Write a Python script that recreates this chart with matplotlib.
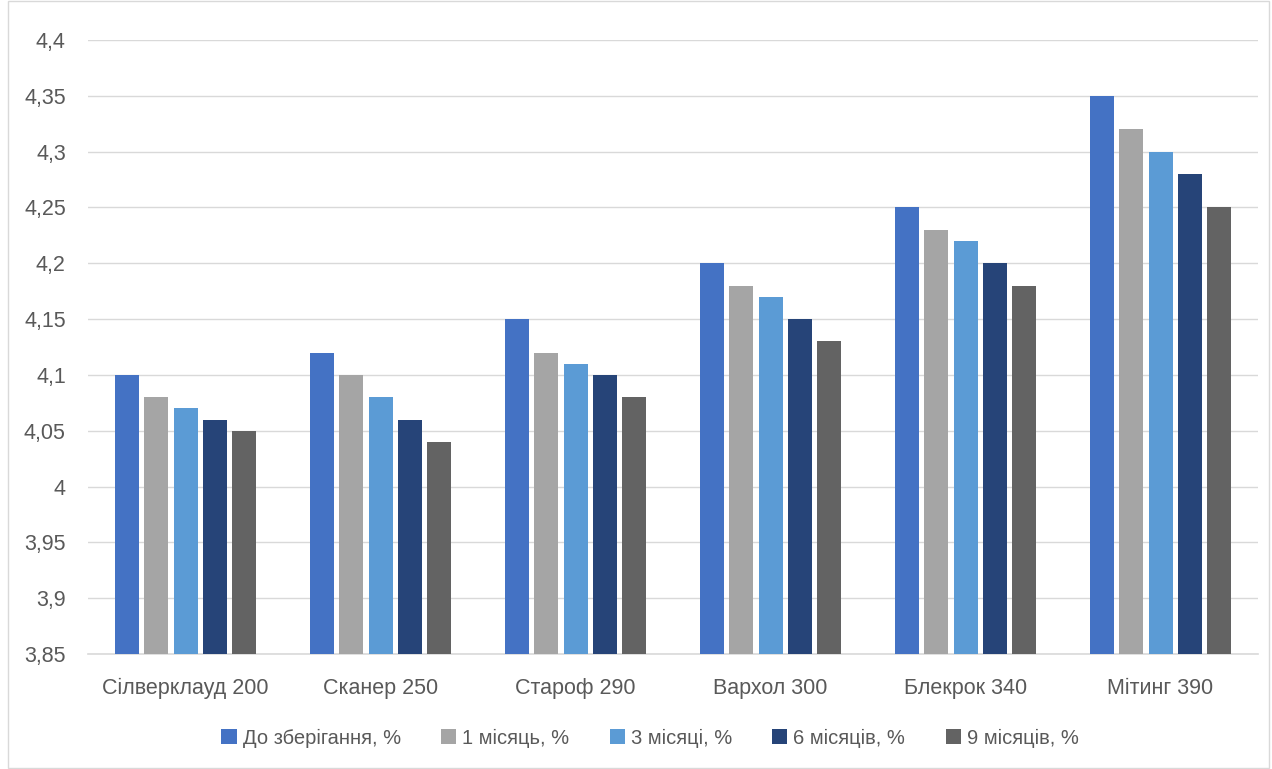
import matplotlib.pyplot as plt
import numpy as np
from matplotlib.patches import Rectangle
from matplotlib.ticker import FuncFormatter

categories = ['Сілверклауд 200', 'Сканер 250', 'Староф 290',
              'Вархол 300', 'Блекрок 340', 'Мітинг 390']
series_names = ['До зберігання, %', '1 місяць, %', '3 місяці, %',
                '6 місяців, %', '9 місяців, %']
before = [4.10, 4.12, 4.15, 4.20, 4.25, 4.35]
month_1 = [4.08, 4.10, 4.12, 4.18, 4.23, 4.32]
month_3 = [4.07, 4.08, 4.11, 4.17, 4.22, 4.30]
month_6 = [4.06, 4.06, 4.10, 4.15, 4.20, 4.28]
month_9 = [4.05, 4.04, 4.08, 4.13, 4.18, 4.25]

colors = ['#4472C4', '#A5A5A5', '#5B9BD5', '#264478', '#636363']

plt.rcParams['font.family'] = ['Liberation Sans', 'DejaVu Sans']

fig = plt.figure(figsize=(12.72, 7.69), dpi=100)
ax = fig.add_axes([0.0692, 0.1495, 0.9198, 0.7985])

x = np.arange(len(categories))
step = 0.151
width = 0.123
all_series = [before, month_1, month_3, month_6, month_9]
for i, (vals, name, col) in enumerate(zip(all_series, series_names, colors)):
    ax.bar(x + (i - 2) * step, vals, width, color=col, label=name, zorder=3)

ax.set_ylim(3.85, 4.4)
ax.set_xlim(-0.5, len(categories) - 0.5)
ax.set_yticks(np.arange(3.85, 4.401, 0.05))
ax.yaxis.set_major_formatter(FuncFormatter(lambda v, p: ('%g' % round(v, 2)).replace('.', ',')))
ax.set_xticks(x)
ax.set_xticklabels(categories)
ax.tick_params(axis='both', length=0, labelsize=15.5, colors='#595959')
ax.tick_params(axis='x', pad=17)
ax.tick_params(axis='y', pad=16)
ax.grid(axis='y', color='#D9D9D9', linewidth=1, zorder=0)
for s in ['top', 'right', 'left']:
    ax.spines[s].set_visible(False)
ax.spines['bottom'].set_color('#D9D9D9')
ax.spines['bottom'].set_linewidth(1.2)

fig.legend(loc='center', bbox_to_anchor=(0.511, 0.04), ncol=5, frameon=False,
           fontsize=14.5, labelcolor='#595959', handlelength=0.75, handleheight=0.75,
           handletextpad=0.3, columnspacing=2.0)

fig.patches.append(Rectangle((0.006, 0.001), 0.992, 0.998, transform=fig.transFigure,
                             fill=False, edgecolor='#D9D9D9', linewidth=1))

fig.savefig('out.png', dpi=100)
